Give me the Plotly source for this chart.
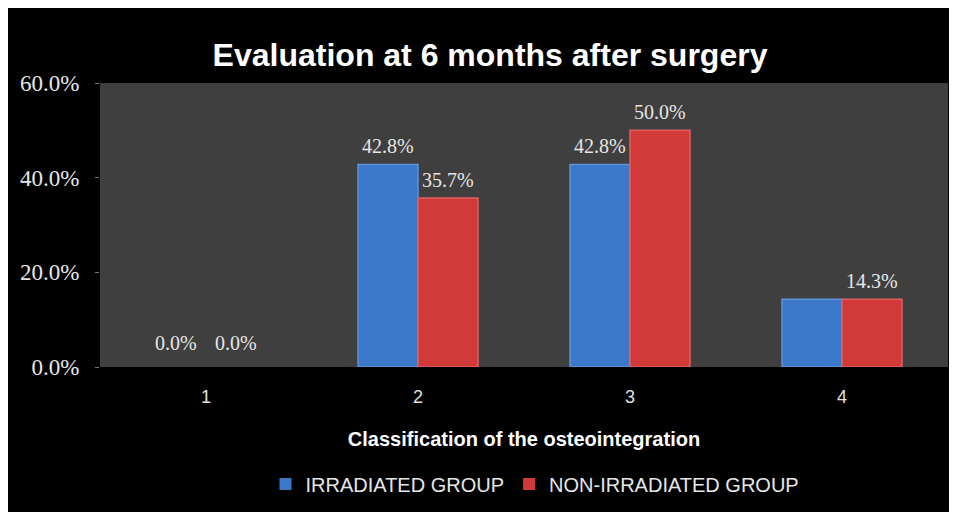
import plotly.graph_objects as go

categories = ["1", "2", "3", "4"]
irradiated = [0.0, 42.8, 42.8, 14.3]
non_irradiated = [0.0, 35.7, 50.0, 14.3]
irradiated_labels = ["0.0%", "42.8%", "42.8%", ""]
non_irradiated_labels = ["0.0%", "35.7%", "50.0%", "14.3%"]
y_ticks = [0, 20, 40, 60]
y_tick_labels = ["0.0%", "20.0%", "40.0%", "60.0%"]

W, H = 947, 504
L, R, T, B = 92, 7, 75, 145
pw, ph = W - L - R, H - T - B

label_font = dict(family="Liberation Serif, Times New Roman, serif", size=20, color="#e6e6e6")

def line_widths(vals):
    return [0 if v == 0 else 1.5 for v in vals]

fig = go.Figure()
fig.add_trace(go.Bar(
    x=categories, y=irradiated, name="IRRADIATED GROUP",
    marker=dict(color="#3b78c9", line=dict(color="#5d93d8", width=line_widths(irradiated))),
))
fig.add_trace(go.Bar(
    x=categories, y=non_irradiated, name="NON-IRRADIATED GROUP",
    marker=dict(color="#d23a3a", line=dict(color="#e06060", width=line_widths(non_irradiated))),
))

annotations = []
for vals, labels, shift in ((irradiated, irradiated_labels, -30), (non_irradiated, non_irradiated_labels, 30)):
    for i, (v, t) in enumerate(zip(vals, labels)):
        if not t:
            continue
        annotations.append(dict(
            x=i, y=v, xref="x", yref="y", text=t, showarrow=False,
            xanchor="center", yanchor="bottom", xshift=shift,
            yshift=11 if v == 0 else 5, font=label_font,
        ))

fig.update_layout(
    width=W, height=H,
    margin=dict(l=L, r=R, t=T, b=B, autoexpand=False),
    paper_bgcolor="black",
    plot_bgcolor="#3f3f3f",
    barmode="group", bargap=0.434, bargroupgap=0.0,
    title=dict(text="<b>Evaluation at 6 months after surgery</b>",
               x=0.509, xanchor="center", y=1 - 47 / H, yanchor="middle",
               font=dict(family="Liberation Sans, Arial, sans-serif", size=32, color="white")),
    xaxis=dict(
        type="category",
        showgrid=False, zeroline=False, showline=False,
        tickfont=dict(family="Liberation Sans Narrow, Arial Narrow, Liberation Sans, sans-serif", size=18, color="#e0e0e0"),
        ticks="", ticklabelstandoff=17,
        title=dict(text="<b>Classification of the osteointegration</b>", standoff=25,
                   font=dict(family="Liberation Sans, Arial, sans-serif", size=20, color="white")),
    ),
    yaxis=dict(
        range=[0, 60], tickvals=y_ticks, ticktext=y_tick_labels,
        showgrid=False, zeroline=False, showline=False,
        ticks="outside", ticklen=4, tickcolor="#777777",
        ticklabelstandoff=11,
        tickfont=dict(family="Liberation Serif, Times New Roman, serif", size=23, color="#e6e6e6"),
    ),
    legend=dict(orientation="h", x=(527 - L) / pw, xanchor="center", y=(H - B - 476) / ph, yanchor="middle",
                font=dict(family="Liberation Sans, Arial, sans-serif", size=20, color="#e6e6e6"),
                bgcolor="rgba(0,0,0,0)", itemwidth=30, traceorder="normal"),
    showlegend=True,
    annotations=annotations,
)

fig.write_html("out.html")
